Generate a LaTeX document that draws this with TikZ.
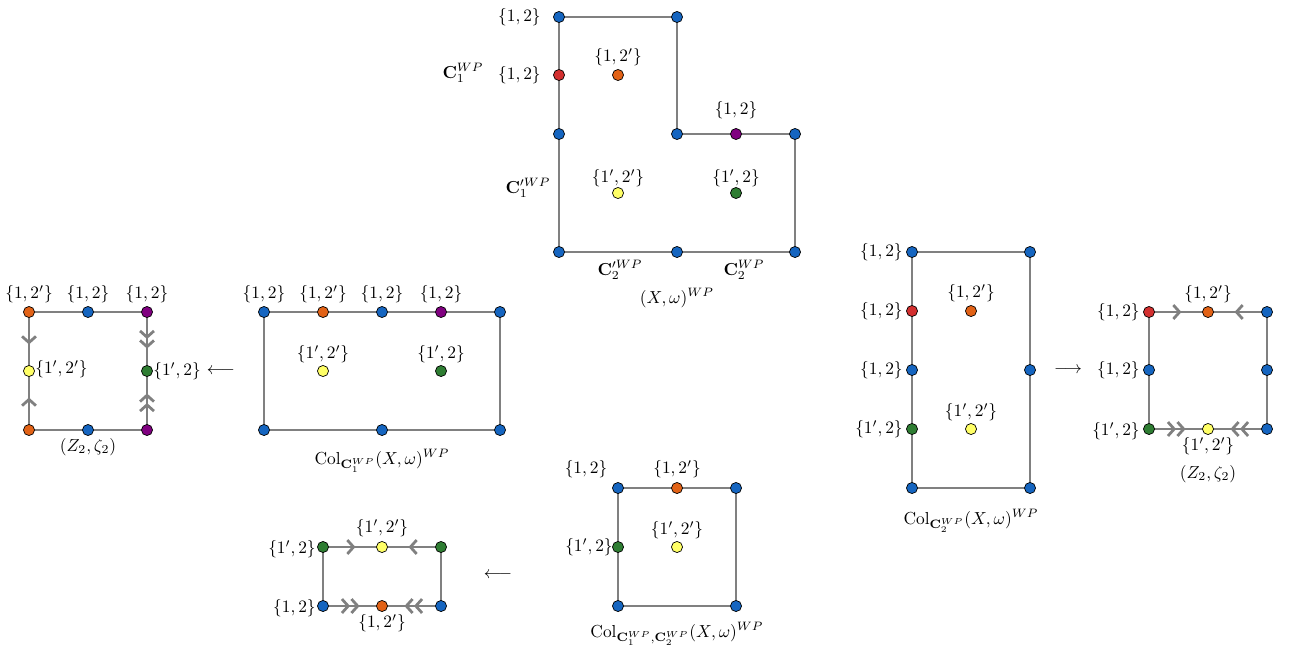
\documentclass[tikz,border=0pt]{standalone}
\usetikzlibrary{arrows.meta,decorations.markings,backgrounds}
\definecolor{cblue}{RGB}{21,101,192}
\definecolor{cred}{RGB}{211,47,47}
\definecolor{corange}{RGB}{226,98,22}
\definecolor{cpurple}{RGB}{128,0,128}
\definecolor{cgreen}{RGB}{46,125,50}
\definecolor{cyellow}{RGB}{255,255,102}
\definecolor{cedge}{RGB}{128,128,128}
\tikzset{
  pt/.style={circle,draw=black,line width=0.4pt,inner sep=0pt,minimum size=6.4pt},
  bl/.style={pt,fill=cblue}, rd/.style={pt,fill=cred}, og/.style={pt,fill=corange},
  pu/.style={pt,fill=cpurple}, gr/.style={pt,fill=cgreen}, ye/.style={pt,fill=cyellow},
  edge/.style={draw=cedge,line width=1.6pt},
  one/.style={edge,postaction={decorate,decoration={markings,
     mark=at position 0.55 with {\arrow[cedge]{Straight Barb[length=3.6pt,width=8pt]}}}}},
  two/.style={edge,postaction={decorate,decoration={markings,
     mark=at position 0.62 with {\arrow[cedge]{Straight Barb[length=3.6pt,width=8pt] Straight Barb[length=3.6pt,width=8pt]}}}}},
  lb/.style={inner sep=0pt,font=\normalsize},
}
\begin{document}
\begin{tikzpicture}[x=0.575pt,y=-0.575pt]
\useasboundingbox (0,0) rectangle (1289,655);
% ---------- top L shape ----------
\node[bl] (L1) at (559,17) {};
\node[bl] (L2) at (677,17) {};
\node[rd] (L3) at (559,75) {};
\node[bl] (L4) at (559,134) {};
\node[bl] (L5) at (677,134) {};
\node[pu] (L6) at (736,134) {};
\node[bl] (L7) at (795,134) {};
\node[bl] (L8) at (559,252) {};
\node[bl] (L9) at (677,252) {};
\node[bl] (L10) at (795,252) {};
\node[og] (L11) at (618,75) {};
\node[ye] (L12) at (618,193) {};
\node[gr] (L13) at (736,193) {};
\node[lb,anchor=east] (tL1) at (541,17) {$\{1,2\}$};
\node[lb,anchor=east] (tL3) at (541,75) {$\{1,2\}$};
\node[lb] (tC1) at (463,73) {$\mathbf{C}_1^{WP}$};
\node[lb] (tL6) at (736,110) {$\{1,2\}$};
\node[lb] (tL11) at (618,57) {$\{1,2'\}$};
\node[lb] (tL12) at (618,178) {$\{1',2'\}$};
\node[lb] (tL13) at (736,178) {$\{1',2\}$};
\node[lb] (tC1p) at (528,188) {$\mathbf{C}_1^{\prime WP}$};
\node[lb] (tC2p) at (620,270) {$\mathbf{C}_2^{\prime WP}$};
\node[lb] (tC2) at (744,270) {$\mathbf{C}_2^{WP}$};
\node[lb] (tX) at (677,298) {$(X,\omega)^{WP}$};
% ---------- middle-left rectangle ----------
\node[bl] (M1) at (264,312) {};
\node[og] (M2) at (323,312) {};
\node[bl] (M3) at (382,312) {};
\node[pu] (M4) at (441,312) {};
\node[bl] (M5) at (500,312) {};
\node[bl] (M6) at (264,430) {};
\node[bl] (M7) at (382,430) {};
\node[bl] (M8) at (500,430) {};
\node[ye] (M9) at (323,371) {};
\node[gr] (M10) at (441,371) {};
\node[lb] (tM1) at (264,294) {$\{1,2\}$};
\node[lb] (tM2) at (323,294) {$\{1,2'\}$};
\node[lb] (tM3) at (382,294) {$\{1,2\}$};
\node[lb] (tM4) at (441,294) {$\{1,2\}$};
\node[lb] (tM9) at (323,354) {$\{1',2'\}$};
\node[lb] (tM10) at (441,354) {$\{1',2\}$};
\node[lb] (tM) at (382,461) {$\mathrm{Col}_{\mathbf{C}_1^{WP}}(X,\omega)^{WP}$};
\node[lb] (A1) at (221,371) {$\longleftarrow$};
% ---------- far-left square ----------
\node[og] (Z1) at (29,312) {};
\node[bl] (Z2) at (88,312) {};
\node[pu] (Z3) at (147,312) {};
\node[ye] (Z4) at (29,371) {};
\node[gr] (Z5) at (147,371) {};
\node[og] (Z6) at (29,430) {};
\node[bl] (Z7) at (88,430) {};
\node[pu] (Z8) at (147,430) {};
\node[lb] (tZ1) at (29,294) {$\{1,2'\}$};
\node[lb] (tZ2) at (88,294) {$\{1,2\}$};
\node[lb] (tZ3) at (147,294) {$\{1,2\}$};
\node[lb,anchor=west] (tZ4) at (35,369) {$\{1',2'\}$};
\node[lb,anchor=west] (tZ5) at (153,371) {$\{1',2\}$};
\node[lb] (tZ) at (88,447) {$(Z_2,\zeta_2)$};
% ---------- right tall rectangle ----------
\node[bl] (R1) at (912,252) {};
\node[rd] (R2) at (912,311) {};
\node[bl] (R3) at (912,370) {};
\node[gr] (R4) at (912,429) {};
\node[bl] (R5) at (912,488) {};
\node[bl] (R6) at (1030,252) {};
\node[bl] (R7) at (1030,370) {};
\node[bl] (R8) at (1030,488) {};
\node[og] (R9) at (971,311) {};
\node[ye] (R10) at (971,429) {};
\node[lb,anchor=east] (tR1) at (903,252) {$\{1,2\}$};
\node[lb,anchor=east] (tR2) at (903,311) {$\{1,2\}$};
\node[lb,anchor=east] (tR3) at (903,370) {$\{1,2\}$};
\node[lb,anchor=east] (tR4) at (903,429) {$\{1',2\}$};
\node[lb] (tR9) at (971,293) {$\{1,2'\}$};
\node[lb] (tR10) at (971,412) {$\{1',2'\}$};
\node[lb] (tR) at (971,521) {$\mathrm{Col}_{\mathbf{C}_2^{WP}}(X,\omega)^{WP}$};
\node[lb] (A2) at (1068,370) {$\longrightarrow$};
% ---------- far-right square ----------
\node[rd] (S1) at (1149,312) {};
\node[og] (S2) at (1208,312) {};
\node[bl] (S3) at (1267,312) {};
\node[bl] (S4) at (1149,370) {};
\node[bl] (S5) at (1267,370) {};
\node[gr] (S6) at (1149,429) {};
\node[ye] (S7) at (1208,429) {};
\node[bl] (S8) at (1267,429) {};
\node[lb,anchor=east] (tS1) at (1140,312) {$\{1,2\}$};
\node[lb] (tS2) at (1208,294) {$\{1,2'\}$};
\node[lb,anchor=east] (tS4) at (1140,370) {$\{1,2\}$};
\node[lb,anchor=east] (tS6) at (1140,431) {$\{1',2\}$};
\node[lb] (tS7) at (1208,446) {$\{1',2'\}$};
\node[lb] (tS) at (1208,474) {$(Z_2,\zeta_2)$};
% ---------- bottom-middle square ----------
\node[bl] (B1) at (618,488) {};
\node[og] (B2) at (677,488) {};
\node[bl] (B3) at (736,488) {};
\node[gr] (B4) at (618,547) {};
\node[bl] (B5) at (618,606) {};
\node[bl] (B6) at (736,606) {};
\node[ye] (B7) at (677,547) {};
\node[lb] (tB1) at (586,469) {$\{1,2\}$};
\node[lb] (tB2) at (677,469) {$\{1,2'\}$};
\node[lb,anchor=east] (tB4) at (613,547) {$\{1',2\}$};
\node[lb] (tB7) at (677,530) {$\{1',2'\}$};
\node[lb] (tB) at (677,634) {$\mathrm{Col}_{\mathbf{C}_1^{WP},\mathbf{C}_2^{WP}}(X,\omega)^{WP}$};
\node[lb] (A3) at (498,575) {$\longleftarrow$};
% ---------- bottom-left rectangle ----------
\node[gr] (D1) at (323,547) {};
\node[ye] (D2) at (382,547) {};
\node[gr] (D3) at (441,547) {};
\node[bl] (D4) at (323,606) {};
\node[og] (D5) at (382,606) {};
\node[bl] (D6) at (441,606) {};
\node[lb,anchor=east] (tD1) at (316,549) {$\{1',2\}$};
\node[lb] (tD2) at (382,528) {$\{1',2'\}$};
\node[lb,anchor=east] (tD4) at (316,608) {$\{1,2\}$};
\node[lb] (tD5) at (382,623) {$\{1,2'\}$};
% ---------- edges ----------
\begin{scope}[on background layer]
\draw[edge] (L1.center) -- (L2.center) -- (L5.center) -- (L6.center) -- (L7.center) -- (L10.center) -- (L9.center) -- (L8.center) -- (L4.center) -- (L3.center) -- cycle;
\draw[edge] (M1.center) -- (M2.center) -- (M3.center) -- (M4.center) -- (M5.center) -- (M8.center) -- (M7.center) -- (M6.center) -- cycle;
\draw[edge] (Z1.center) -- (Z2.center) -- (Z3.center);
\draw[edge] (Z6.center) -- (Z7.center) -- (Z8.center);
\draw[one] (Z1.center) -- (Z4.center);
\draw[one] (Z6.center) -- (Z4.center);
\draw[two] (Z3.center) -- (Z5.center);
\draw[two] (Z8.center) -- (Z5.center);
\draw[edge] (R1.center) -- (R2.center) -- (R3.center) -- (R4.center) -- (R5.center) -- (R8.center) -- (R7.center) -- (R6.center) -- cycle;
\draw[edge] (S1.center) -- (S4.center) -- (S6.center);
\draw[edge] (S3.center) -- (S5.center) -- (S8.center);
\draw[one] (S1.center) -- (S2.center);
\draw[one] (S3.center) -- (S2.center);
\draw[two] (S6.center) -- (S7.center);
\draw[two] (S8.center) -- (S7.center);
\draw[edge] (B1.center) -- (B2.center) -- (B3.center) -- (B6.center) -- (B5.center) -- (B4.center) -- cycle;
\draw[edge] (D1.center) -- (D4.center);
\draw[edge] (D3.center) -- (D6.center);
\draw[one] (D1.center) -- (D2.center);
\draw[one] (D3.center) -- (D2.center);
\draw[two] (D4.center) -- (D5.center);
\draw[two] (D6.center) -- (D5.center);
\end{scope}
\end{tikzpicture}
\end{document}
